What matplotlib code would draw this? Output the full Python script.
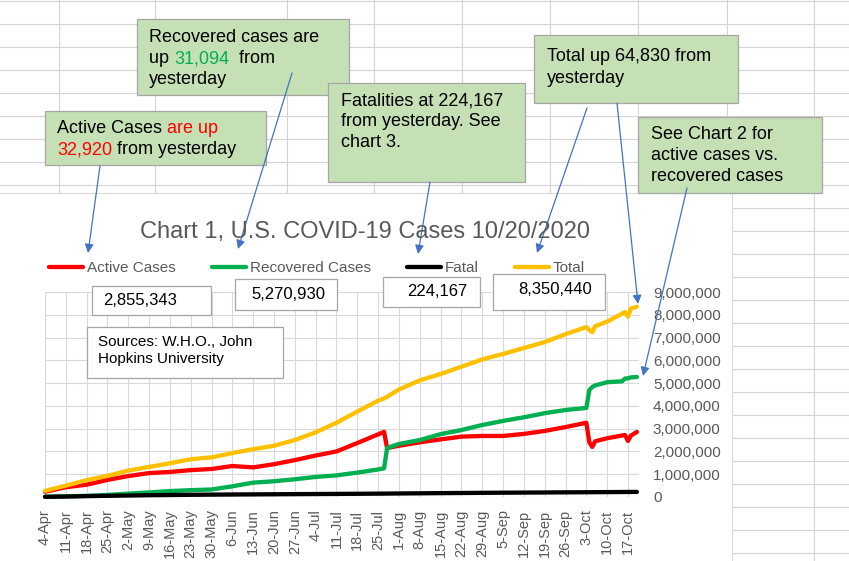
import numpy as np
import matplotlib
matplotlib.use("Agg")
import matplotlib.pyplot as plt
import matplotlib.dates as mdates
from matplotlib.patches import Rectangle, FancyArrowPatch
import pandas as pd

plt.rcParams['font.family'] = ['Liberation Sans', 'DejaVu Sans']

# values, in thousands
dates = ["2020-04-04", "2020-04-11", "2020-04-18", "2020-04-25", "2020-05-02",
         "2020-05-09", "2020-05-16", "2020-05-23", "2020-05-30", "2020-06-06",
         "2020-06-13", "2020-06-20", "2020-06-27", "2020-07-04", "2020-07-11",
         "2020-07-18", "2020-07-25", "2020-07-27", "2020-07-28", "2020-08-01",
         "2020-08-08", "2020-08-15", "2020-08-22", "2020-08-29", "2020-09-05",
         "2020-09-12", "2020-09-19", "2020-09-26", "2020-10-03", "2020-10-04",
         "2020-10-05", "2020-10-06", "2020-10-10", "2020-10-15", "2020-10-16",
         "2020-10-17", "2020-10-18", "2020-10-20"]
active = [230, 430, 540, 750, 920, 1050, 1100, 1180, 1230, 1360,
          1300, 1440, 1620, 1820, 2000, 2370, 2750, 2860, 2150, 2250,
          2400, 2530, 2650, 2680, 2680, 2770, 2900, 3070, 3260, 2400,
          2200, 2450, 2580, 2700, 2720, 2460, 2700, 2855]
recovered = [10, 30, 50, 90, 150, 200, 260, 300, 330, 470,
             630, 690, 780, 880, 950, 1070, 1210, 1260, 2150, 2330,
             2500, 2760, 2940, 3160, 3340, 3500, 3680, 3820, 3910, 4700,
             4830, 4900, 5040, 5080, 5200, 5210, 5250, 5271]
fatal = [8, 20, 38, 52, 65, 78, 88, 97, 104, 110,
         115, 120, 126, 130, 135, 141, 147, 149, 150, 155,
         162, 170, 176, 183, 189, 194, 199, 205, 209, 210,
         211, 212, 215, 219, 220, 221, 222, 224]
total = [270, 500, 740, 930, 1160, 1320, 1480, 1660, 1740, 1930,
         2100, 2250, 2500, 2840, 3260, 3750, 4230, 4330, 4400, 4720,
         5120, 5400, 5720, 6040, 6280, 6540, 6800, 7150, 7460, 7330,
         7240, 7500, 7700, 8050, 8120, 7920, 8280, 8350]

series_names = ["Active Cases", "Recovered Cases", "Fatal", "Total"]
series_colors = ["#FF0000", "#00B050", "#000000", "#FFC000"]

xtick_labels = ["4-Apr", "11-Apr", "18-Apr", "25-Apr", "2-May", "9-May", "16-May",
                "23-May", "30-May", "6-Jun", "13-Jun", "20-Jun", "27-Jun", "4-Jul",
                "11-Jul", "18-Jul", "25-Jul", "1-Aug", "8-Aug", "15-Aug", "22-Aug",
                "29-Aug", "5-Sep", "12-Sep", "19-Sep", "26-Sep", "3-Oct", "10-Oct",
                "17-Oct"]
ytick_values = [0, 1000000, 2000000, 3000000, 4000000, 5000000, 6000000,
                7000000, 8000000, 9000000]
ytick_labels = ["0", "1,000,000", "2,000,000", "3,000,000", "4,000,000",
                "5,000,000", "6,000,000", "7,000,000", "8,000,000", "9,000,000"]

latest = ["2,855,343", "5,270,930", "224,167", "8,350,440"]

W, H = 849, 561
fig = plt.figure(figsize=(W / 100, H / 100), dpi=100)

# spreadsheet behind the chart
bg = fig.add_axes([0, 0, 1, 1], zorder=0)
bg.set_xlim(0, W)
bg.set_ylim(H, 0)
bg.axis('off')
for y in np.arange(1, H, 23):
    bg.plot([0, W], [y, y], color='#D4D4D4', lw=0.8)
for x in [59, 155, 287, 374, 462, 550, 638, 727, 814]:
    bg.plot([x, x], [0, H], color='#D4D4D4', lw=0.8)
bg.add_patch(Rectangle((-2, 193), 734, 370, facecolor='white',
                       edgecolor='#D9D9D9', lw=0.8, zorder=3))

# the chart
ax = fig.add_axes([45 / W, (H - 497) / H, (639 - 45) / W, (497 - 292) / H], zorder=1)
ax.patch.set_alpha(0)
x = mdates.date2num(pd.to_datetime(dates))
vals = [active, recovered, fatal, total]
for v, name, col in zip(vals, series_names, series_colors):
    ax.plot(x, np.array(v) * 1000, color=col, lw=3.1, label=name,
            solid_capstyle='round', solid_joinstyle='round', clip_on=False)

start = mdates.date2num(pd.Timestamp("2020-04-04"))
ax.set_xlim(start, start + 199.7)
ax.set_ylim(0, 9000000)
ax.set_xticks(start + 7 * np.arange(len(xtick_labels)))
ax.set_xticklabels(xtick_labels, rotation=90)
ax.yaxis.tick_right()
ax.set_yticks(ytick_values)
ax.set_yticklabels(ytick_labels)
ax.tick_params(axis='x', length=0, pad=9, labelsize=10.5, labelcolor='#595959')
ax.tick_params(axis='y', length=0, pad=10, labelsize=11, labelcolor='#595959')
ax.grid(True, color='#D9D9D9', lw=0.8)
ax.set_axisbelow(True)
for s in ax.spines.values():
    s.set_visible(False)

ax.legend(loc='center left', bbox_to_anchor=(49 / W, 1 - 268 / H),
          bbox_transform=fig.transFigure, ncol=4, frameon=False, fontsize=11,
          labelcolor='#595959', handlelength=2.2, handletextpad=0.26,
          columnspacing=2.4, borderpad=0, borderaxespad=0)

fig.text(365 / W, 1 - 232 / H, "Chart 1, U.S. COVID-19 Cases 10/20/2020",
         ha='center', va='center', fontsize=17, color='#595959')

# text boxes and arrows on top
ov = fig.add_axes([0, 0, 1, 1], zorder=2)
ov.set_xlim(0, W)
ov.set_ylim(H, 0)
ov.axis('off')
ov.patch.set_alpha(0)

def box(x0, y0, x1, y1, fc):
    ov.add_patch(Rectangle((x0, y0), x1 - x0, y1 - y0, facecolor=fc,
                           edgecolor='#A6A6A6', lw=0.9))

def rich(x, y, parts, size=13):
    t = ov.text(x, y, parts[0][0], color=parts[0][1], fontsize=size, va='baseline')
    for s, c in parts[1:]:
        t = ov.annotate(s, xy=(1, 0), xycoords=t, va='bottom', color=c, fontsize=size)

green_fc = '#C5E0B4'
box(137, 19, 349, 95, green_fc)
rich(149, 42, [("Recovered cases are", 'black')])
rich(149, 63, [("up ", 'black'), ("31,094", '#00B050'), ("  from", 'black')])
rich(149, 84, [("yesterday", 'black')])

box(45, 111, 266, 165, green_fc)
rich(57, 133, [("Active Cases ", 'black'), ("are up", '#FF0000')])
rich(57, 154, [("32,920", '#FF0000'), (" from yesterday", 'black')])

box(328, 83, 525, 182, green_fc)
rich(341, 105, [("Fatalities at 224,167", 'black')])
rich(341, 126, [("from yesterday. See", 'black')])
rich(341, 147, [("chart 3.", 'black')])

box(534, 35, 738, 103, green_fc)
rich(547, 61, [("Total up 64,830 from", 'black')])
rich(547, 83, [("yesterday", 'black')])

box(638, 117, 822, 193, green_fc)
rich(651, 139, [("See Chart 2 for", 'black')])
rich(651, 160, [("active cases vs.", 'black')])
rich(651, 181, [("recovered cases", 'black')])

# latest values
value_boxes = [(92, 286, 211, 315), (235, 279, 337, 310), (383, 277, 480, 307), (493, 274, 605, 310)]
value_text_x = [103, 251, 407, 518]
value_text_y = [300, 294, 291, 289]
for (x0, y0, x1, y1), tx, ty, s in zip(value_boxes, value_text_x, value_text_y, latest):
    box(x0, y0, x1, y1, 'white')
    ov.text(tx, ty, s, fontsize=12, va='center', ha='left', color='black')

box(87, 327, 283, 378, 'white')
ov.text(98, 346, "Sources: W.H.O., John", fontsize=11, va='baseline')
ov.text(98, 363, "Hopkins University", fontsize=11, va='baseline')

arrows = [((100, 166), (88, 253)), ((292, 73), (238, 249)), ((430, 182), (418, 254)),
          ((587, 108), (537, 253)), ((617, 103), (638, 304)), ((687, 188), (643, 376))]
for a, b in arrows:
    ov.add_patch(FancyArrowPatch(a, b, arrowstyle='-|>', mutation_scale=13,
                                 color='#4472C4', lw=0.9, shrinkA=0, shrinkB=0))

fig.savefig("out.png", dpi=100)
